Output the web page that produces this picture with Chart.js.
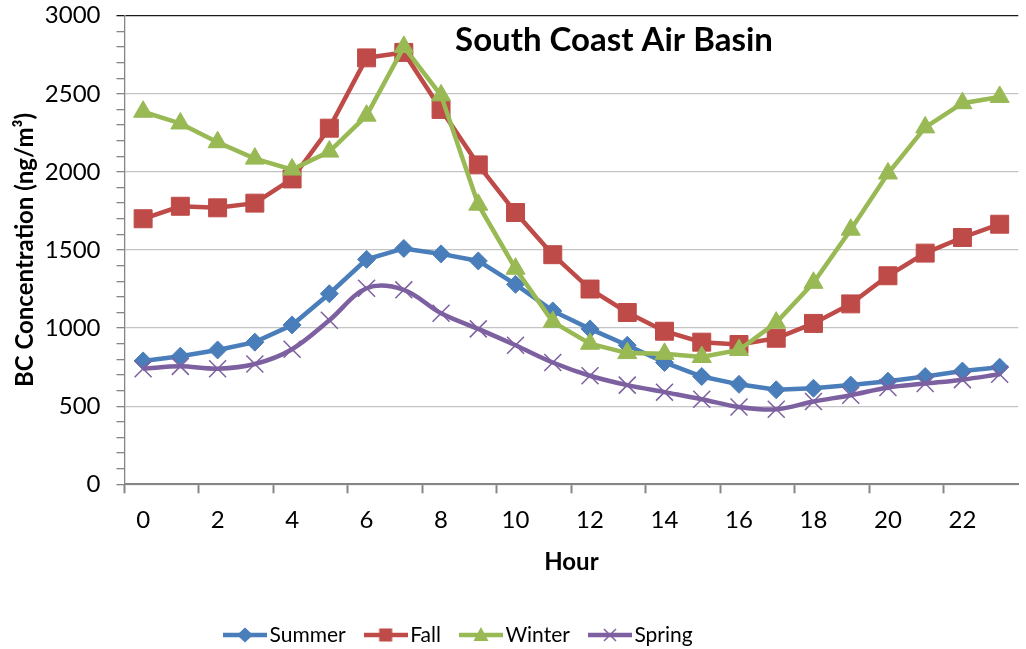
<!DOCTYPE html>
<html>
<head>
<meta charset="utf-8">
<script src="https://cdn.jsdelivr.net/npm/chart.js@4/dist/chart.umd.min.js"></script>
<style>
  html, body { margin: 0; padding: 0; background: #fff; overflow: hidden; }
  #wrap { position: absolute; left: 0; top: 0; width: 1032px; height: 649px; }
</style>
</head>
<body>
<div id="wrap"><canvas id="c"></canvas></div>
<script>
// Hourly black carbon concentration (ng/m3) by season
const hours = ['0','1','2','3','4','5','6','7','8','9','10','11','12','13','14','15','16','17','18','19','20','21','22','23'];
const summer = [790, 820, 860, 910, 1020, 1220, 1440, 1510, 1475, 1430, 1280, 1110, 995, 890, 780, 690, 640, 605, 615, 635, 660, 690, 725, 750];
const fall   = [1700, 1780, 1770, 1800, 1955, 2280, 2730, 2765, 2400, 2045, 1740, 1470, 1250, 1100, 980, 910, 895, 935, 1030, 1155, 1335, 1480, 1580, 1665];
const winter = [2385, 2310, 2190, 2085, 2015, 2130, 2360, 2800, 2490, 1790, 1380, 1040, 900, 840, 835, 815, 860, 1035, 1290, 1630, 1990, 2285, 2440, 2480];
const spring = [740, 755, 740, 770, 865, 1050, 1255, 1245, 1095, 995, 890, 780, 695, 635, 590, 545, 495, 480, 530, 570, 620, 645, 670, 705];
const seriesNames = ['Summer', 'Fall', 'Winter', 'Spring'];

const COLORS = { Summer: '#4A7EBB', Fall: '#BE4B48', Winter: '#98B954', Spring: '#7D60A0' };
const FONT = 'Lato';

// Small line-plus-marker swatch used as the legend symbol
function legendSwatch(color, style) {
  const c = document.createElement('canvas');
  c.width = 44; c.height = 24;
  const g = c.getContext('2d');
  g.strokeStyle = color; g.fillStyle = color; g.lineWidth = 4.5;
  g.beginPath(); g.moveTo(0, 12); g.lineTo(44, 12); g.stroke();
  g.beginPath();
  if (style === 'rectRot') {
    g.moveTo(14, 12); g.lineTo(22, 4.5); g.lineTo(30, 12); g.lineTo(22, 19.5); g.closePath(); g.fill();
  } else if (style === 'rect') {
    g.fillRect(15.5, 5.5, 13, 13);
  } else if (style === 'triangle') {
    g.moveTo(22, 4); g.lineTo(29.5, 18); g.lineTo(14.5, 18); g.closePath(); g.fill();
  } else if (style === 'crossRot') {
    g.lineWidth = 1.5;
    g.moveTo(16, 6); g.lineTo(28, 18); g.moveTo(28, 6); g.lineTo(16, 18); g.stroke();
  }
  return c;
}

// Title drawn inside the plot area
const plotTitle = {
  id: 'plotTitle',
  afterDraw(chart, args, opts) {
    const ctx = chart.ctx;
    ctx.save();
    ctx.font = `bold ${opts.size}px ${FONT}`;
    ctx.fillStyle = '#000';
    ctx.textAlign = 'center';
    ctx.textBaseline = 'alphabetic';
    ctx.fillText(opts.text, opts.x, opts.y);
    ctx.restore();
  }
};

// Moves the bottom legend row to its place under the axis title
const legendPlacement = {
  id: 'legendPlacement',
  afterLayout(chart, args, opts) {
    const lg = chart.legend;
    if (!lg || !lg.lineWidths) return;
    const pad = lg.options.labels.padding;
    const start = (lg.left + pad + lg.right - lg.lineWidths[0]) / 2;
    const dx = opts.startX - start;
    lg.left += dx; lg.right += dx;
    const h = lg.height;
    lg.top = opts.top; lg.bottom = opts.top + h;
  }
};

function build() {
  const styles = { Summer: 'rectRot', Fall: 'rect', Winter: 'triangle', Spring: 'crossRot' };
  const radii = { Summer: 9, Fall: 12.7, Winter: 11, Spring: 12 };
  const values = { Summer: summer, Fall: fall, Winter: winter, Spring: spring };
  const tension = { Summer: 0, Fall: 0, Winter: 0, Spring: 0.35 };
  const swatches = {};
  seriesNames.forEach(n => { swatches[n] = legendSwatch(COLORS[n], styles[n]); });

  const datasets = seriesNames.map((n, i) => ({
    label: n,
    data: values[n],
    borderColor: COLORS[n],
    backgroundColor: COLORS[n],
    borderWidth: 4.5,
    tension: tension[n],
    pointStyle: styles[n],
    pointRadius: radii[n],
    pointBackgroundColor: COLORS[n],
    pointBorderColor: COLORS[n],
    pointBorderWidth: n === 'Spring' ? 1.5 : 1,
    order: seriesNames.length - i
  }));

  new Chart(document.getElementById('c'), {
    type: 'line',
    data: { labels: hours, datasets },
    plugins: [plotTitle, legendPlacement],
    options: {
      responsive: true,
      maintainAspectRatio: false,
      animation: false,
      events: [],
      layout: { padding: { top: 15.7, left: 0, right: 0, bottom: 0 } },
      plugins: {
        tooltip: { enabled: false },
        title: { display: false },
        plotTitle: { text: 'South Coast Air Basin', size: 33, x: 614, y: 50.7 },
        legendPlacement: { startX: 231, top: 598.5 },
        legend: {
          position: 'bottom',
          labels: {
            usePointStyle: true,
            pointStyleWidth: 28,
            padding: 26,
            color: '#000',
            font: { family: FONT, size: 21 },
            generateLabels: (chart) => chart.data.datasets.map((ds, i) => ({
              text: ds.label,
              pointStyle: swatches[ds.label],
              fillStyle: ds.borderColor,
              strokeStyle: ds.borderColor,
              lineWidth: 0,
              hidden: false,
              datasetIndex: i
            }))
          }
        }
      },
      scales: {
        x: {
          type: 'category',
          offset: true,
          afterFit: (s) => { s.height = s.chart.height - 484.3 - (s.chart.legend ? s.chart.legend.height : 0); },
          ticks: {
            autoSkip: false, maxRotation: 0, minRotation: 0,
            padding: 12.8, color: '#000',
            font: { family: FONT, size: 24 },
            callback: (v, i) => (i % 2 === 0 ? hours[i] : '')
          },
          grid: {
            offset: true,
            drawOnChartArea: false,
            tickLength: 9,
            tickWidth: 2,
            tickColor: (ctx) => (ctx.index % 2 === 0 ? '#868686' : 'rgba(0,0,0,0)')
          },
          border: { color: '#868686', width: 2 },
          title: {
            display: true, text: 'Hour', color: '#000',
            font: { family: FONT, size: 24, weight: 'bold' },
            padding: { top: 0, bottom: 15 }
          }
        },
        y: {
          min: 0, max: 3000,
          afterFit: (s) => { s.width = 124.5; s.paddingTop = 0; s.paddingBottom = 0; },
          ticks: {
            stepSize: 100, autoSkip: false, padding: 16, color: '#000',
            font: { family: FONT, size: 24 },
            callback: (v) => (v % 500 === 0 ? String(v) : '')
          },
          grid: {
            lineWidth: 1.3,
            tickLength: 8,
            tickWidth: 1.3,
            color: (ctx) => {
              const v = ctx.tick ? ctx.tick.value : 0;
              if (v === 3000) return '#1a1a1a';
              return v % 500 === 0 ? '#c4c4c4' : 'rgba(0,0,0,0)';
            },
            tickColor: (ctx) => (ctx.tick && ctx.tick.value === 3000 ? '#1a1a1a' : '#868686')
          },
          border: { color: '#868686', width: 1.3 },
          title: {
            display: true, text: 'BC Concentration (ng/m³)', color: '#000',
            font: { family: FONT, size: 24, weight: 'bold' },
            padding: { top: 10.6, bottom: 0 }
          }
        }
      }
    }
  });
}

Promise.all([
  document.fonts.load(`24px ${FONT}`),
  document.fonts.load(`bold 24px ${FONT}`)
]).then(build, build);
</script>
</body>
</html>
